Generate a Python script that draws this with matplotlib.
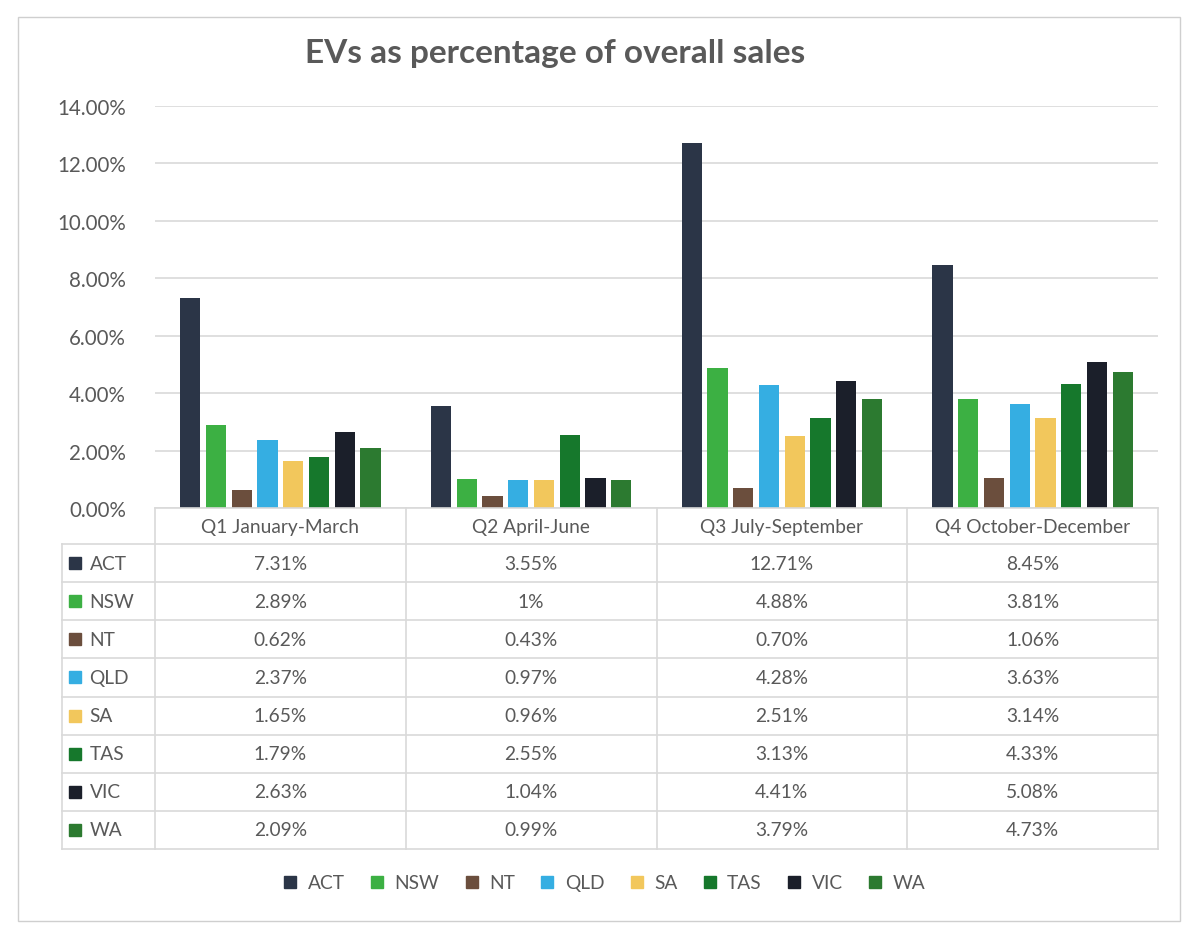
import matplotlib.pyplot as plt
from matplotlib.lines import Line2D
from matplotlib.patches import Rectangle
import numpy as np

plt.rcParams['font.family'] = ['Lato', 'DejaVu Sans']

quarters = ['Q1 January-March', 'Q2 April-June', 'Q3 July-September',
            'Q4 October-December']
states = ['ACT', 'NSW', 'NT', 'QLD', 'SA', 'TAS', 'VIC', 'WA']

# percent of overall sales, per quarter
act = [7.31, 3.55, 12.71, 8.45]
nsw = [2.89, 1.00, 4.88, 3.81]
nt = [0.62, 0.43, 0.70, 1.06]
qld = [2.37, 0.97, 4.28, 3.63]
sa = [1.65, 0.96, 2.51, 3.14]
tas = [1.79, 2.55, 3.13, 4.33]
vic = [2.63, 1.04, 4.41, 5.08]
wa = [2.09, 0.99, 3.79, 4.73]
series = [act, nsw, nt, qld, sa, tas, vic, wa]

# table text as printed in the source
table_text = [
    ['7.31%', '3.55%', '12.71%', '8.45%'],
    ['2.89%', '1%', '4.88%', '3.81%'],
    ['0.62%', '0.43%', '0.70%', '1.06%'],
    ['2.37%', '0.97%', '4.28%', '3.63%'],
    ['1.65%', '0.96%', '2.51%', '3.14%'],
    ['1.79%', '2.55%', '3.13%', '4.33%'],
    ['2.63%', '1.04%', '4.41%', '5.08%'],
    ['2.09%', '0.99%', '3.79%', '4.73%'],
]

colors = ['#2b3547', '#3cb043', '#6b4e3d', '#35aee2', '#f2c75c',
          '#16782c', '#1b1f2a', '#2c7a30']
text_col = '#595959'
grid_col = '#d9d9d9'
fs = 13.8

W, H = 1200, 937
fig = plt.figure(figsize=(W / 100, H / 100), dpi=100)

ax = fig.add_axes([155 / W, 1 - 509 / H, (1158 - 155) / W, (509 - 107) / H])
x = np.arange(len(quarters))
step = 0.1027
width = 0.08
for i, (vals, c) in enumerate(zip(series, colors)):
    ax.bar(x + (i - 3.5) * step, np.array(vals) / 100, width, color=c,
           zorder=3)
ax.set_xlim(-0.5, len(quarters) - 0.5)
ax.set_ylim(0, 0.14)
ax.set_yticks(np.arange(0, 0.141, 0.02))
ax.set_yticklabels([f'{t * 100:.2f}%' for t in np.arange(0, 0.141, 0.02)])
ax.yaxis.grid(True, color=grid_col, lw=1.2)
ax.tick_params(axis='y', length=0, pad=21, labelsize=14.8, labelcolor=text_col)
ax.set_xticks([])
for s in ['top', 'left', 'right', 'bottom']:
    ax.spines[s].set_visible(False)

# data table under the chart
tab = fig.add_axes([62 / W, 1 - 850 / H, (1158 - 62) / W, (850 - 509) / H])
lab_w = 93 / 250.75
head_h = 36 / 38
left = -0.5 - lab_w
right = len(quarters) - 0.5
nrows = len(states)
tab.set_xlim(left, right)
tab.set_ylim(nrows, -head_h)
tab.axis('off')
lk = dict(color=grid_col, lw=1.2, clip_on=False)
tab.plot([-0.5, right], [-head_h, -head_h], **lk)
for k in range(len(quarters) + 1):
    tab.plot([k - 0.5, k - 0.5], [-head_h, nrows], **lk)
tab.plot([left, left], [0, nrows], **lk)
for r in range(nrows + 1):
    tab.plot([left, right], [r, r], **lk)
for j, q in enumerate(quarters):
    tab.text(j, -head_h / 2, q, ha='center', va='center', fontsize=fs,
             color=text_col)
for r, (st, c) in enumerate(zip(states, colors)):
    tab.plot(left + 0.052, r + 0.5, marker='s', color=c, markersize=8,
             clip_on=False)
    tab.text(left + 0.11, r + 0.5, st, ha='left', va='center', fontsize=fs,
             color=text_col)
    for j in range(len(quarters)):
        tab.text(j, r + 0.5, table_text[r][j], ha='center', va='center',
                 fontsize=fs, color=text_col)

fig.text(555 / W, 1 - 53 / H, 'EVs as percentage of overall sales',
         ha='center', va='center', fontsize=24, fontweight='bold',
         color=text_col)

handles = [Line2D([], [], marker='s', linestyle='', color=c, markersize=9)
           for c in colors]
fig.legend(handles, states, loc='center', bbox_to_anchor=(604 / W, 1 - 884 / H),
           ncol=len(states), frameon=False, fontsize=fs, handlelength=0.8,
           handletextpad=0.5, columnspacing=1.3, labelcolor=text_col)

fig.patches.append(Rectangle((18 / W, 1 - 922 / H), (1180 - 18) / W,
                             (922 - 18) / H, transform=fig.transFigure,
                             fill=False, edgecolor='#cfcfcf', lw=1))

fig.savefig('out.png', dpi=100, facecolor='white')
